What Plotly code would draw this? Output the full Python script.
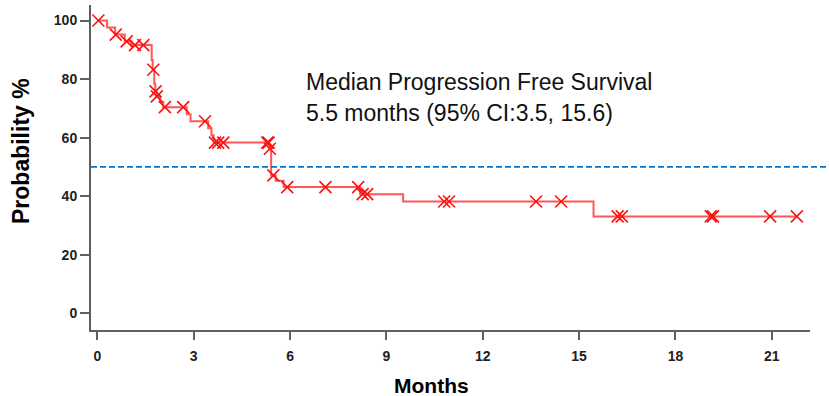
import plotly.graph_objects as go

# Kaplan-Meier step curve (months, probability %)
step_t = [0, 0.30, 0.55, 0.85, 1.05, 1.69, 1.72, 1.77, 1.80, 1.84, 1.95, 2.05, 2.78, 2.90,
          3.45, 3.55, 3.62, 5.35, 5.41, 5.55, 5.80, 8.18, 9.52, 15.45, 21.8]
step_s = [100, 97.6, 95.2, 92.9, 91.6, 86.5, 83.2, 78.5, 75.8, 74.1, 72.2, 70.4, 68.0, 65.6,
          63.2, 60.8, 58.3, 56.2, 47.1, 45.3, 43.1, 40.7, 38.2, 33.1, 33.1]

# Censor marks
censor_t = [0.03, 0.57, 0.91, 1.17, 1.43, 1.74, 1.81, 1.85, 2.10, 2.67, 3.35, 3.66, 3.76, 3.92,
            5.29, 5.33, 5.37, 5.48, 5.91, 7.10, 8.12, 8.26, 8.40, 10.80, 10.95, 13.66, 14.44,
            16.20, 16.33, 19.10, 19.17, 20.95, 21.78]
censor_s = [100, 95.2, 92.9, 91.6, 91.6, 83.2, 75.8, 74.1, 70.4, 70.4, 65.6, 58.3, 58.3, 58.3,
            58.3, 58.3, 56.2, 47.1, 43.1, 43.1, 43.1, 40.7, 40.7, 38.2, 38.2, 38.2, 38.2,
            33.1, 33.1, 33.1, 33.1, 33.1, 33.1]

median_level = 50
x_ticks = [0, 3, 6, 9, 12, 15, 18, 21]
y_ticks = [0, 20, 40, 60, 80, 100]

FONT = "Liberation Sans, Arial, sans-serif"
AX = "#5f5f5f"

fig = go.Figure()
fig.add_trace(go.Scatter(
    x=step_t, y=step_s, mode="lines", line_shape="hv",
    line=dict(color="rgba(255,30,30,0.75)", width=2), hoverinfo="skip", showlegend=False))
fig.add_trace(go.Scatter(
    x=censor_t, y=censor_s, mode="markers",
    marker=dict(symbol="x-thin", size=12, line=dict(color="#ff1010", width=1.6)),
    showlegend=False))

L, R, T, B = 91, 19, 5, 66
W, H = 829, 396
pw = W - L - R
ph = H - T - B

fig.add_shape(type="line", xref="paper", yref="y", x0=0, x1=(W - L) / pw,
              y0=median_level, y1=median_level,
              line=dict(color="#0a72c4", width=1.6, dash="6px,3px"))

fig.add_annotation(text="Median Progression Free Survival", xref="paper", yref="paper",
                   x=(304 - L) / pw, y=(H - B - 82) / ph, xanchor="left", yanchor="middle",
                   showarrow=False, font=dict(family=FONT, size=23, color="#111"))
fig.add_annotation(text="5.5 months (95% CI:3.5, 15.6)", xref="paper", yref="paper",
                   x=(304 - L) / pw, y=(H - B - 113) / ph, xanchor="left", yanchor="middle",
                   showarrow=False, font=dict(family=FONT, size=23, color="#111"))
fig.add_annotation(text="Probability %", xref="paper", yref="paper",
                   x=(21 - L) / pw, y=(H - B - 151) / ph, xanchor="center", yanchor="middle",
                   textangle=-90, showarrow=False,
                   font=dict(family=FONT, size=23, color="#000", weight="bold"))
fig.add_annotation(text="Months", xref="paper", yref="paper",
                   x=(431 - L) / pw, y=(H - B - 385) / ph, xanchor="center", yanchor="middle",
                   showarrow=False,
                   font=dict(family=FONT, size=21, color="#000", weight="bold"))

axis_common = dict(showline=True, linecolor=AX, linewidth=2, ticks="outside", tickcolor=AX,
                   tickwidth=1.8, showgrid=False, zeroline=False,
                   tickfont=dict(family=FONT, size=14, color="#222", weight="bold"))

fig.update_layout(
    width=W, height=H, margin=dict(l=L, r=R, t=T, b=B),
    paper_bgcolor="white", plot_bgcolor="white",
    xaxis=dict(range=[-0.2, 22.19], tickvals=x_ticks, ticklen=8, ticklabelstandoff=4,
               **axis_common),
    yaxis=dict(range=[-5.7, 105.3], tickvals=y_ticks, ticklen=9, **axis_common),
)

fig.write_html("out.html")
